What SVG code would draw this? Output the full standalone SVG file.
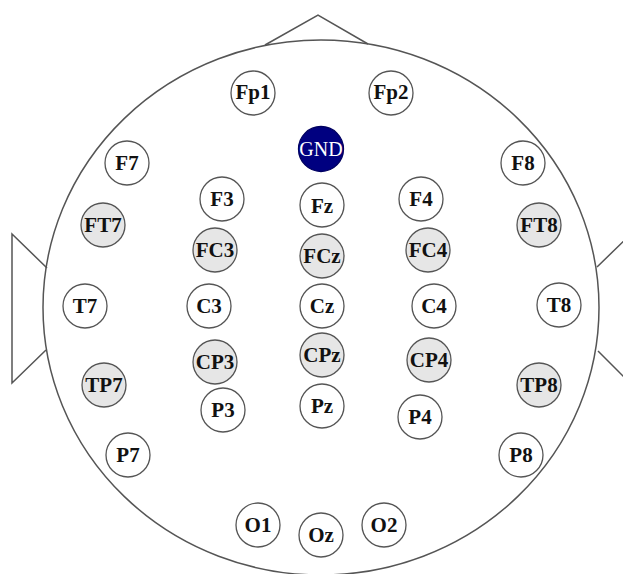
<svg xmlns="http://www.w3.org/2000/svg" width="623" height="574" viewBox="0 0 623 574">
<style>
.head{fill:none;stroke:#555;stroke-width:1.5}
.e circle{stroke:#555;stroke-width:1.3;fill:#fff}
.g circle{fill:#e6e6e6}
.e text{font-family:"Liberation Serif",serif;font-weight:bold;font-size:21px;fill:#111;text-anchor:middle}
#GND circle{fill:#000080;stroke:#000060}
#GND text{fill:#fff;font-weight:normal;font-size:20px}
</style>
<rect width="623" height="574" fill="#fff"/>
<g id="head">
<ellipse class="head" cx="321" cy="307.5" rx="278" ry="267.5"/>
<polyline class="head" points="265,45 318,15 368,44"/>
<polyline class="head" points="47,268 12,234 12,383 46,350"/>
<polyline class="head" points="597,267 632,233 632,385 598,351"/>
</g>
<g id="connectors"></g>
<g id="Fp1" class="e"><circle cx="253" cy="93" r="22"/><text x="253" y="99">Fp1</text></g>
<g id="Fp2" class="e"><circle cx="391" cy="93" r="22"/><text x="391" y="99">Fp2</text></g>
<g id="GND" class="e"><circle cx="321" cy="149" r="22.5"/><text x="321" y="156">GND</text></g>
<g id="F7" class="e"><circle cx="127" cy="163" r="22"/><text x="127" y="170">F7</text></g>
<g id="F8" class="e"><circle cx="523" cy="163" r="22"/><text x="523" y="170">F8</text></g>
<g id="F3" class="e"><circle cx="222" cy="199" r="22"/><text x="222" y="206">F3</text></g>
<g id="Fz" class="e"><circle cx="322" cy="205" r="22"/><text x="322" y="213">Fz</text></g>
<g id="F4" class="e"><circle cx="421" cy="199" r="22"/><text x="421" y="206">F4</text></g>
<g id="FT7" class="e g"><circle cx="103" cy="225" r="22"/><text x="103" y="232">FT7</text></g>
<g id="FT8" class="e g"><circle cx="539" cy="225" r="22"/><text x="539" y="232">FT8</text></g>
<g id="FC3" class="e g"><circle cx="215" cy="250" r="22"/><text x="215" y="257">FC3</text></g>
<g id="FCz" class="e g"><circle cx="322" cy="256" r="22"/><text x="322" y="263">FCz</text></g>
<g id="FC4" class="e g"><circle cx="428" cy="250" r="22"/><text x="428" y="257">FC4</text></g>
<g id="T7" class="e"><circle cx="85" cy="306" r="22"/><text x="85" y="313">T7</text></g>
<g id="C3" class="e"><circle cx="209" cy="306" r="22"/><text x="209" y="313">C3</text></g>
<g id="Cz" class="e"><circle cx="322" cy="306" r="22"/><text x="322" y="313">Cz</text></g>
<g id="C4" class="e"><circle cx="434" cy="306" r="22"/><text x="434" y="313">C4</text></g>
<g id="T8" class="e"><circle cx="559" cy="305" r="22"/><text x="559" y="312">T8</text></g>
<g id="CP3" class="e g"><circle cx="215" cy="362" r="22"/><text x="215" y="369">CP3</text></g>
<g id="CPz" class="e g"><circle cx="322" cy="355" r="22"/><text x="322" y="362">CPz</text></g>
<g id="CP4" class="e g"><circle cx="429" cy="360" r="22"/><text x="429" y="367">CP4</text></g>
<g id="TP7" class="e g"><circle cx="104" cy="385" r="22"/><text x="104" y="392">TP7</text></g>
<g id="TP8" class="e g"><circle cx="539" cy="385" r="22"/><text x="539" y="392">TP8</text></g>
<g id="P3" class="e"><circle cx="223" cy="410" r="22"/><text x="223" y="417">P3</text></g>
<g id="Pz" class="e"><circle cx="322" cy="406" r="22"/><text x="322" y="413">Pz</text></g>
<g id="P4" class="e"><circle cx="420" cy="417" r="22"/><text x="420" y="424">P4</text></g>
<g id="P7" class="e"><circle cx="128" cy="455" r="22"/><text x="128" y="462">P7</text></g>
<g id="P8" class="e"><circle cx="521" cy="455" r="22"/><text x="521" y="462">P8</text></g>
<g id="O1" class="e"><circle cx="258" cy="525" r="22"/><text x="258" y="532">O1</text></g>
<g id="Oz" class="e"><circle cx="321" cy="535" r="22"/><text x="321" y="542">Oz</text></g>
<g id="O2" class="e"><circle cx="384" cy="525" r="22"/><text x="384" y="532">O2</text></g>
</svg>
